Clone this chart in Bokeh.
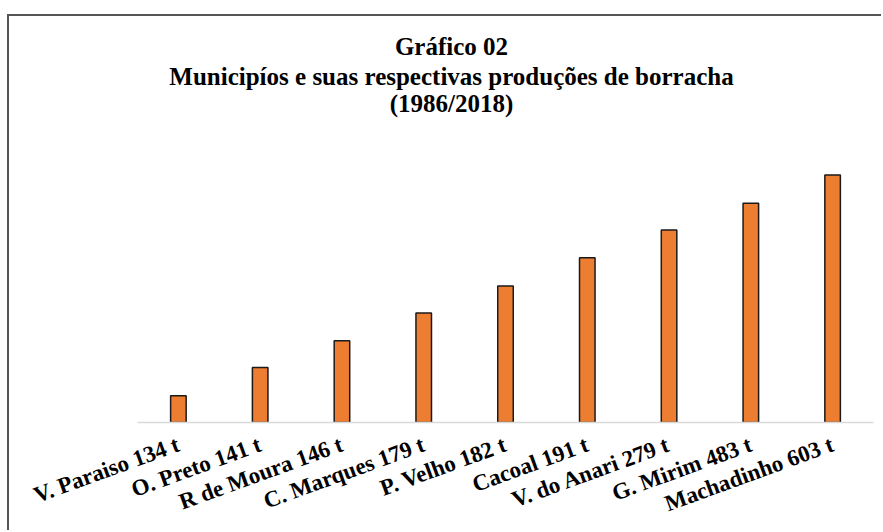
from bokeh.plotting import figure
from bokeh.models import FactorRange, Range1d, Label
from bokeh.embed import file_html
from bokeh.resources import INLINE

# Category labels (municipality + production)
municipios = [
    "V. Paraiso 134 t",
    "O. Preto 141 t",
    "R de Moura 146 t",
    "C. Marques 179 t",
    "P. Velho 182 t",
    "Cacoal 191 t",
    "V. do Anari 279 t",
    "G. Mirim 483 t",
    "Machadinho 603 t",
]
# Bar heights as drawn in the picture (relative units)
alturas = [0.97, 2.0, 2.97, 3.98, 4.96, 5.99, 7.0, 7.97, 9.0]

titulos = ["Gráfico 02",
           "Municipíos e suas respectivas produções de borracha",
           "(1986/2018)"]

W, H = 874, 516
p = figure(
    width=W, height=H,
    x_range=FactorRange(factors=municipios, range_padding=0),
    y_range=Range1d(0, 14.4),
    output_backend="svg", toolbar_location=None,
    min_border_left=128, min_border_right=10,
    min_border_top=10, min_border_bottom=110,
)
p.styles = {"position": "relative", "left": "9px", "top": "16px",
            "box-shadow": "-2px -2px 0 0 #555555"}
p.title = None

# title lines (screen offsets from the frame's bottom-left corner)
title_y = [376, 346, 319]
for txt, ty in zip(titulos, title_y):
    p.add_layout(Label(x=314, y=ty, x_units="screen", y_units="screen",
                       text=txt, text_align="center", text_baseline="alphabetic",
                       text_font="Liberation Serif", text_font_style="bold",
                       text_font_size="25px", text_color="#000000"))

p.vbar(x=municipios, top=alturas, width=0.19, fill_color="#ED7D31",
       line_color="#1a1a1a", line_width=1.5)

p.yaxis.visible = False
p.xgrid.visible = False
p.ygrid.visible = False
p.outline_line_color = None

ax = p.xaxis[0]
ax.axis_line_color = "#d9d9d9"
ax.axis_line_width = 1.5
ax.major_tick_line_color = None
ax.minor_tick_line_color = None
ax.major_tick_out = 0
ax.major_tick_in = 0
ax.major_label_orientation = 0.35
ax.major_label_standoff = 21
ax.major_label_text_line_height = 0.6
ax.major_label_text_font = "Liberation Serif"
ax.major_label_text_font_style = "bold"
ax.major_label_text_font_size = "23px"
ax.major_label_text_color = "#000000"

open("out.html", "w").write(file_html(p, INLINE))
